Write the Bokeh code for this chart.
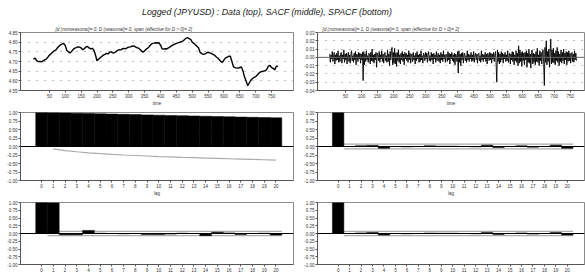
from bokeh.plotting import figure
from bokeh.layouts import column, row
from bokeh.models import Div, FixedTicker, Range1d, Span, NumeralTickFormatter
from bokeh.embed import file_html
from bokeh.resources import INLINE

# ---------------- data ----------------
title_text = "Logged (JPYUSD) : Data (top), SACF (middle), SPACF (bottom)"
sub_left = "[d (nonseasonal)= 0, D (seasonal)= 0, span (effective for D > 0)= 2]"
sub_right = "[d (nonseasonal)= 1, D (seasonal)= 0, span (effective for D > 0)= 2]"
time_label = "time"
lag_label = "lag"

level_step = 5  # observations between stored level points
level_values = [
    4.712, 4.718, 4.705, 4.699, 4.701, 4.698, 4.703, 4.708, 4.712, 4.722,
    4.733, 4.740, 4.748, 4.755, 4.759, 4.770, 4.779, 4.786, 4.790, 4.794,
    4.782, 4.757, 4.750, 4.744, 4.752, 4.763, 4.769, 4.772, 4.776, 4.774,
    4.770, 4.761, 4.766, 4.775, 4.778, 4.770, 4.765, 4.768, 4.760, 4.735,
    4.704, 4.712, 4.720, 4.726, 4.733, 4.737, 4.742, 4.739, 4.748, 4.750,
    4.744, 4.746, 4.752, 4.758, 4.761, 4.760, 4.766, 4.768, 4.765, 4.771,
    4.774, 4.776, 4.779, 4.781, 4.777, 4.772, 4.770, 4.763, 4.755, 4.748,
    4.756, 4.764, 4.770, 4.778, 4.788, 4.794, 4.795, 4.797, 4.796, 4.797,
    4.785, 4.766, 4.764, 4.766, 4.765, 4.770, 4.776, 4.781, 4.786, 4.790,
    4.794, 4.796, 4.799, 4.802, 4.806, 4.812, 4.820, 4.824, 4.818, 4.814,
    4.800, 4.794, 4.786, 4.779, 4.770, 4.747, 4.741, 4.737, 4.739, 4.744,
    4.748, 4.745, 4.742, 4.737, 4.733, 4.725, 4.718, 4.710, 4.700, 4.696,
    4.708, 4.719, 4.722, 4.727, 4.728, 4.700, 4.672, 4.668, 4.667, 4.666,
    4.669, 4.672, 4.650, 4.618, 4.598, 4.575, 4.590, 4.604, 4.612, 4.618,
    4.622, 4.630, 4.640, 4.646, 4.648, 4.650, 4.652, 4.660, 4.676, 4.680,
    4.668, 4.665, 4.656, 4.676, 4.675,
]

returns_step = 2  # observations between stored return points
returns_permil = [
    4, -6, 3, -2, 7, -5, 2, 6, -8, 3,
    -4, 5, -3, 8, -6, 2, -5, 4, 6, -7,
    3, -2, 9, -6, 4, -3, 5, -8, 2, 6,
    -5, 3, -7, 4, 8, -4, 2, -6, 5, -3,
    7, -9, 4, 3, -5, 6, -2, 5, -7, 4,
    -3, 6, -28, 7, -9, 4, -5, 8, -3, 2,
    -6, 5, 3, -8, 6, -4, 10, -5, 3, -7,
    4, -3, 6, -12, 5, 2, -4, 7, -6, 3,
    -2, 8, -5, 4, -7, 3, 6, -4, 2, -6,
    9, -5, 4, -10, 7, -3, 8, 12, -9, 6,
    -7, 11, -8, 5, -11, 6, -4, 9, -6, 3,
    -8, 5, -3, 7, -5, 4, -9, 6, -2, 5,
    -4, 3, -6, 8, -3, 5, -7, 2, 4, -5,
    6, -3, 2, -8, 5, -4, 7, -2, 3, -6,
    4, -5, 8, -3, 2, -7, 5, 3, -4, 6,
    -2, 5, -6, 3, 7, -4, 2, -5, 6, -3,
    4, -8, 5, -2, 3, -6, 7, -4, 2, 5,
    -5, 3, -7, 6, -3, 4, -5, 8, -2, 3,
    -6, 4, 2, -5, 7, -3, 5, -8, 4, -2,
    6, -4, 3, -6, 5, -9, 4, 2, -5, 7,
    -19, 8, -6, 4, -10, 5, -3, 6, -7, 3,
    5, -4, 2, -6, 8, -3, 4, -5, 3, -2,
    6, -5, 3, -4, 7, -6, 2, 5, -3, 4,
    -7, 3, 5, -4, 2, -6, 8, -3, 4, -5,
    3, -2, 6, -5, 4, -8, 5, 2, -4, 6,
    -3, 5, -7, 4, -2, 6, -5, 3, 7, -9,
    -30, 9, -5, 6, -8, 4, -6, 7, -3, 5,
    -7, 4, -2, 6, -5, 3, -4, 8, -6, 2,
    5, -8, 4, -3, 7, -5, 6, -9, 3, -4,
    8, -6, 5, -10, 14, -7, 9, -5, 6, -11,
    7, -4, 5, -9, 6, -3, 8, -12, 5, -6,
    10, -7, 4, -13, 6, 9, -8, 5, -6, 4,
    -9, 7, -5, 11, -6, 3, -10, 8, -4, 6,
    -8, 5, 9, -7, -34, 12, -6, 20, -9, 7,
    -5, 10, -12, 6, 22, -8, 9, -6, 11, -7,
    5, -9, 8, -4, 12, -6, 7, -10, 4, -5,
    9, -7, 6, -4, 10, -8, 5, -3, 7, -9,
    6, -5, 8, -4, 5, -7, 3, 6, -5, 4,
    -6, 8, -3, 5, -4,
]

time_ticks = [50, 100, 150, 200, 250, 300, 350, 400, 450, 500, 550, 600, 650, 700, 750]
level_ticks = [4.55, 4.60, 4.65, 4.70, 4.75, 4.80, 4.85]
returns_ticks = [-0.04, -0.03, -0.02, -0.01, 0.00, 0.01, 0.02, 0.03]
acf_ticks = [-1.00, -0.75, -0.50, -0.25, 0.00, 0.25, 0.50, 0.75, 1.00]

lags = list(range(21))
sacf_level = [1.000, 0.993, 0.986, 0.978, 0.970, 0.962, 0.954, 0.946, 0.938, 0.930,
              0.922, 0.914, 0.906, 0.898, 0.890, 0.882, 0.874, 0.866, 0.858, 0.851, 0.844]
sacf_level_band = [0.07, 0.12, 0.155, 0.185, 0.21, 0.23, 0.25, 0.265, 0.28, 0.295,
                   0.305, 0.32, 0.33, 0.34, 0.35, 0.36, 0.37, 0.38, 0.39, 0.40]  # lags 1..20
spacf_level = [1.000, 0.993, -0.04, -0.04, 0.10, 0.01, 0.00, -0.01, 0.00, -0.03, -0.03,
               -0.02, 0.01, 0.00, -0.07, 0.04, 0.02, -0.03, 0.00, 0.01, -0.05]
sacf_diff = [1.000, 0.00, 0.02, 0.03, -0.05, 0.00, -0.01, 0.00, 0.02, 0.01, 0.01,
             0.00, -0.01, 0.04, -0.03, 0.00, 0.02, -0.02, 0.00, 0.04, -0.05]
spacf_diff = [1.000, 0.00, 0.02, 0.03, -0.05, 0.00, -0.01, 0.00, 0.015, 0.01, 0.01,
              0.00, -0.01, 0.035, -0.03, 0.00, 0.02, -0.02, 0.00, 0.03, -0.05]
white_band = 0.07

# ---------------- styling helpers ----------------
FONT = "Liberation Sans"
TICK_FS = "4.5px"


def make_fig(width, height, xr, yr, bl, br, bt, bb, yticks, xticks, xlabel=None,
             title=None, title_offset=0):
    p = figure(width=width, height=height, x_range=Range1d(*xr), y_range=Range1d(*yr),
               output_backend="svg", toolbar_location=None,
               min_border_left=bl, min_border_right=br,
               min_border_top=bt, min_border_bottom=bb)
    p.background_fill_color = "white"
    p.border_fill_color = "white"
    p.outline_line_color = "#8a8a8a"
    p.outline_line_width = 1
    p.xgrid.visible = False
    p.ygrid.visible = False
    for ax in (p.xaxis[0], p.yaxis[0]):
        ax.axis_line_color = "#555555"
        ax.major_tick_line_color = "#555555"
        ax.minor_tick_line_color = None
        ax.major_tick_out = 2
        ax.major_tick_in = 0
        ax.major_label_standoff = 1
        ax.major_label_text_font = FONT
        ax.major_label_text_font_size = TICK_FS
        ax.major_label_text_color = "#333333"
    p.yaxis[0].axis_label = None
    p.yaxis[0].ticker = FixedTicker(ticks=yticks)
    p.yaxis[0].formatter = NumeralTickFormatter(format="0.00")
    p.xaxis[0].ticker = FixedTicker(ticks=xticks)
    if xlabel:
        p.xaxis[0].axis_label = xlabel
        p.xaxis[0].axis_label_text_font = FONT
        p.xaxis[0].axis_label_text_font_size = TICK_FS
        p.xaxis[0].axis_label_text_font_style = "normal"
        p.xaxis[0].axis_label_standoff = 0
        p.xaxis[0].axis_label_text_color = "#333333"
    if title:
        p.title.text = title
        p.title.text_font = FONT
        p.title.text_font_size = "4.6px"
        p.title.text_font_style = "italic"
        p.title.text_color = "#333333"
        p.title.align = "left"
        p.title.offset = title_offset
        p.title.standoff = 2
    return p


LW, RW = 295, 290
LB, LR = 20, 2
RB, RR = 22, 1

# ---- row 1: data
p1 = make_fig(LW, 90, (-41, 819), (4.55, 4.85), LB, LR, 14, 14, level_ticks, time_ticks,
              xlabel=time_label, title=sub_left, title_offset=35)
p1.ygrid.visible = True
p1.ygrid.ticker = FixedTicker(ticks=level_ticks)
p1.ygrid.grid_line_color = "#777777"
p1.ygrid.grid_line_dash = "1 7"
level_x = [i * level_step for i in range(len(level_values))]
p1.line(level_x, level_values, line_color="black", line_width=1.4)

p2 = make_fig(RW, 90, (-37, 794), (-0.04, 0.03), RB, RR, 14, 14, returns_ticks, time_ticks,
              xlabel=time_label, title=sub_right, title_offset=5)
p2.ygrid.visible = True
p2.ygrid.ticker = FixedTicker(ticks=returns_ticks)
p2.ygrid.grid_line_color = "#777777"
p2.ygrid.grid_line_dash = "1 7"
p2.add_layout(Span(location=0, dimension="width", line_color="#666666", line_width=1))
returns_x = [1 + i * returns_step for i in range(len(returns_permil))]
returns_values = [v / 1000.0 for v in returns_permil]
p2.line(returns_x, returns_values, line_color="black", line_width=0.9)


def acf_panel(width, height, bl, br, bt, bb, values, xlabel, band_upper=None, band_lower=None):
    p = make_fig(width, height, (-1.8, 21.5), (-1.0, 1.0), bl, br, bt, bb, acf_ticks, lags,
                 xlabel=xlabel)
    if band_upper is not None:
        p.line(band_upper[0], band_upper[1], line_color="#aaaaaa", line_width=1.2)
        p.line(band_lower[0], band_lower[1], line_color="#aaaaaa", line_width=1.2)
    p.vbar(x=lags, top=values, bottom=0, width=1.0, fill_color="black", line_color="black",
           line_width=0.5)
    p.add_layout(Span(location=0, dimension="width", line_color="black", line_width=1))
    return p


flat_x = [lags[1] - 0.5, lags[-1] + 0.5]
flat_up = (flat_x, [white_band, white_band])
flat_dn = (flat_x, [-white_band, -white_band])
bart_up = (lags[1:], sacf_level_band)
bart_dn = (lags[1:], [-b for b in sacf_level_band])

# ---- row 2: SACF
p3 = acf_panel(LW, 90, LB, LR, 4, 14, sacf_level, lag_label, bart_up, bart_dn)
p4 = acf_panel(RW, 90, RB, RR, 4, 14, sacf_diff, lag_label, flat_up, flat_dn)
# ---- row 3: SPACF
p5 = acf_panel(LW, 76, LB, LR, 4, 7, spacf_level, None, flat_up, flat_dn)
p6 = acf_panel(RW, 76, RB, RR, 4, 7, spacf_diff, None, flat_up, flat_dn)

head = Div(text=("<div style=\"width:585px;text-align:left;font-family:'Liberation Sans';"
                 "font-style:italic;font-size:8.8px;line-height:10px;padding-top:7px;"
                 "padding-left:142px;box-sizing:border-box;color:#222\">"
                 + title_text + "</div>"),
           width=585, height=18, margin=0)

layout = column(head, row(p1, p2), row(p3, p4), row(p5, p6), spacing=0)

open("out.html", "w").write(file_html(layout, INLINE))
